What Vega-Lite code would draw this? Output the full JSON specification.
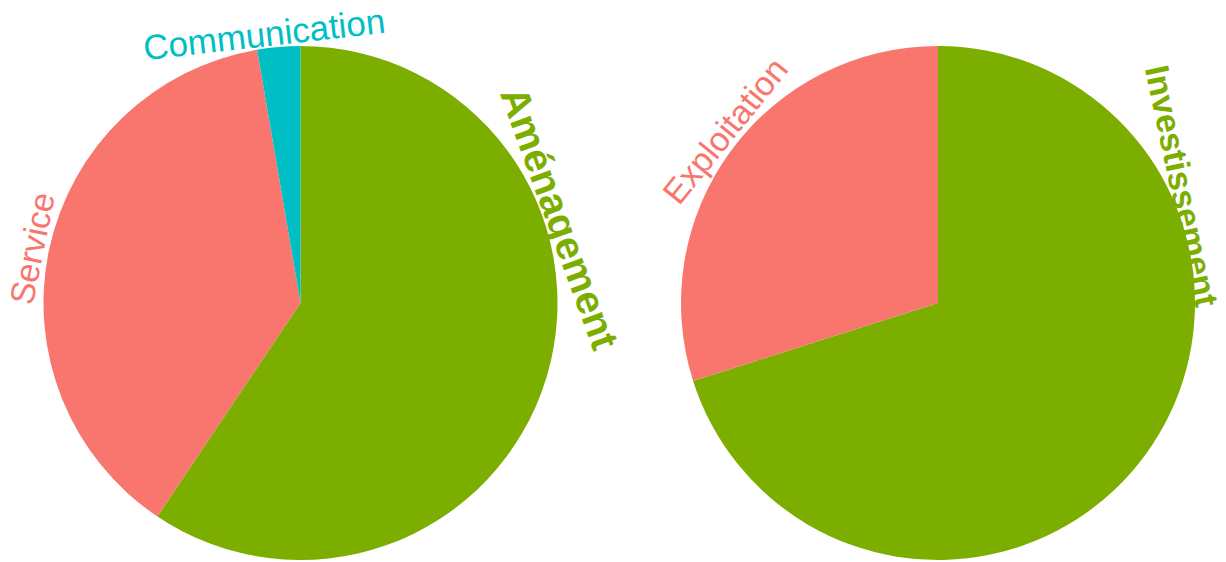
{
  "$schema": "https://vega.github.io/schema/vega-lite/v6.json",
  "background": "white",
  "padding": 0,
  "spacing": 57,
  "bounds": "flush",
  "config": {"view": {"stroke": null}, "text": {"font": "Liberation Sans"}},
  "hconcat": [
    {
      "width": 601,
      "height": 606,
      "data": {"values": [
        {"category": "Aménagement", "value": 59.4},
        {"category": "Service", "value": 37.9},
        {"category": "Communication", "value": 2.7}
      ]},
      "encoding": {
        "theta": {"field": "value", "type": "quantitative", "stack": true},
        "order": {"field": "value", "type": "quantitative", "sort": "descending"},
        "color": {"field": "category", "type": "nominal", "legend": null,
          "scale": {"domain": ["Aménagement", "Service", "Communication", "Investissement", "Exploitation"],
                    "range": ["#7CAE00", "#F8766D", "#00BFC4", "#7CAE00", "#F8766D"]}}
      },
      "layer": [
        {"mark": {"type": "arc", "outerRadius": 257}},
        {"mark": {"type": "text", "radius": 259, "angle": 70, "thetaOffset": -0.61, "fontSize": 40, "fontWeight": "bold", "baseline": "alphabetic", "align": "center"},
         "encoding": {"text": {"condition": {"test": "datum.category === 'Aménagement'", "field": "category", "type": "nominal"}, "value": ""}}},
        {"mark": {"type": "text", "radius": 262, "angle": -78.5, "thetaOffset": -0.01, "fontSize": 34, "baseline": "alphabetic", "align": "center"},
         "encoding": {"text": {"condition": {"test": "datum.category === 'Service'", "field": "category", "type": "nominal"}, "value": ""}}},
        {"mark": {"type": "text", "radius": 259, "angle": -6.5, "thetaOffset": -0.051, "fontSize": 35, "baseline": "alphabetic", "align": "center"},
         "encoding": {"text": {"condition": {"test": "datum.category === 'Communication'", "field": "category", "type": "nominal"}, "value": ""}}}
      ]
    },
    {
      "width": 560,
      "height": 606,
      "data": {"values": [
        {"category": "Investissement", "value": 70.1},
        {"category": "Exploitation", "value": 29.9}
      ]},
      "encoding": {
        "theta": {"field": "value", "type": "quantitative", "stack": true},
        "order": {"field": "value", "type": "quantitative", "sort": "descending"},
        "color": {"field": "category", "type": "nominal", "legend": null,
          "scale": {"domain": ["Aménagement", "Service", "Communication", "Investissement", "Exploitation"],
                    "range": ["#7CAE00", "#F8766D", "#00BFC4", "#7CAE00", "#F8766D"]}}
      },
      "layer": [
        {"mark": {"type": "arc", "outerRadius": 257}},
        {"mark": {"type": "text", "radius": 259, "angle": 78, "thetaOffset": -1.09, "fontSize": 34, "fontWeight": "bold", "baseline": "alphabetic", "align": "center"},
         "encoding": {"text": {"condition": {"test": "datum.category === 'Investissement'", "field": "category", "type": "nominal"}, "value": ""}}},
        {"mark": {"type": "text", "radius": 262, "angle": -51, "thetaOffset": 0.049, "fontSize": 34, "baseline": "alphabetic", "align": "center"},
         "encoding": {"text": {"condition": {"test": "datum.category === 'Exploitation'", "field": "category", "type": "nominal"}, "value": ""}}}
      ]
    }
  ]
}
